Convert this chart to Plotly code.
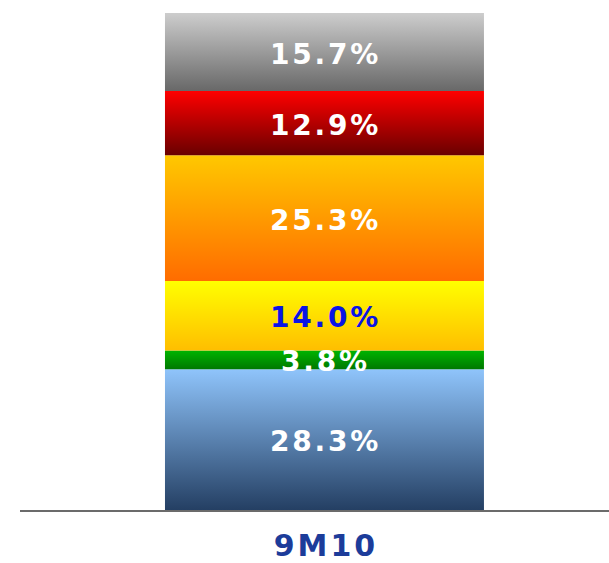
import plotly.graph_objects as go

# Share of total by segment (bottom to top) for the 9M10 period
period = "9M10"
segments = ["Segment A", "Segment B", "Segment C", "Segment D", "Segment E", "Segment F"]
shares = [28.3, 3.8, 14.0, 25.3, 12.9, 15.7]
labels = ["28.3%", "3.8%", "14.0%", "25.3%", "12.9%", "15.7%"]

# Vertical gradient per segment: (bottom colour, top colour)
gradients = [
    ("#243f63", "#8fc4fb"),
    ("#007800", "#00b400"),
    ("#ffbe00", "#ffff00"),
    ("#ff6c00", "#ffc800"),
    ("#6a0000", "#ff0000"),
    ("#686868", "#cdcdcd"),
]
label_colors = ["white", "white", "#0a14e6", "white", "white", "white"]


def spaced(s, sep="\u200a"):
    """Open up the tracking of a label with a hair space between characters."""
    return sep.join(s)


half_width = 0.5
fig = go.Figure()

base = 0.0
annotations = []
for name, val, lab, col, (c_bot, c_top) in zip(segments, shares, labels, label_colors, gradients):
    y0, y1 = base, base + val
    fig.add_trace(go.Scatter(
        x=[-half_width, half_width, half_width, -half_width, -half_width],
        y=[y0, y0, y1, y1, y0],
        mode="lines",
        line=dict(width=0),
        fill="toself",
        fillgradient=dict(type="vertical", start=y0, stop=y1,
                          colorscale=[[0, c_bot], [1, c_top]]),
        name=name,
        hoverinfo="skip",
        showlegend=False,
    ))
    annotations.append(dict(
        x=0, y=(y0 + y1) / 2, xref="x", yref="y",
        text=spaced(lab), showarrow=False, yshift=-2,
        font=dict(family="DejaVu Sans", size=28, color=col, weight="bold"),
    ))
    base = y1

fig.update_layout(
    width=609, height=563,
    margin=dict(l=20, r=0, t=13, b=53),
    paper_bgcolor="white",
    plot_bgcolor="white",
    showlegend=False,
    annotations=annotations,
    xaxis=dict(
        range=[-0.9545, 0.892],
        tickmode="array", tickvals=[0], ticktext=[spaced(period)],
        ticks="outside", ticklen=8, tickcolor="rgba(0,0,0,0)",
        tickfont=dict(family="DejaVu Sans", size=30, color="#1c3c9a", weight="bold"),
        showline=True, linecolor="#6b6b6b", linewidth=2,
        showgrid=False, zeroline=False, fixedrange=True, automargin=False,
    ),
    yaxis=dict(
        range=[0, 100],
        visible=False, showgrid=False, zeroline=False, fixedrange=True,
        automargin=False,
    ),
)

fig.write_html("out.html")
